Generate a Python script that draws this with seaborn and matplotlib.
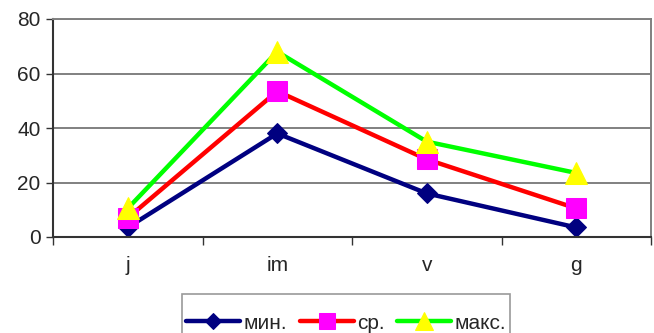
import numpy as np
import pandas as pd
from matplotlib import pyplot as plt
from matplotlib.ticker import FixedLocator
import seaborn as sns

# values
categories = ["j", "im", "v", "g"]
min_vals = [3.5, 38, 16, 3.5]
avg_vals = [7, 53.5, 28.5, 10.5]
max_vals = [10.5, 68, 35, 23.5]
series_names = ["мин.", "ср.", "макс."]

df = pd.DataFrame({"cat": categories, "мин.": min_vals, "ср.": avg_vals, "макс.": max_vals})

sns.set_style("white")
plt.rcParams["font.family"] = ["Liberation Sans", "DejaVu Sans"]

fig = plt.figure(figsize=(6.54, 3.33), dpi=100)
ax = fig.add_axes([53 / 654, 1 - 237 / 333, (651 - 53) / 654, (237 - 19) / 333])

styles = {
    "мин.": dict(color="#000080", marker="D", markersize=10, markerfacecolor="#000080", markeredgecolor="#000080"),
    "ср.": dict(color="#FF0000", marker="s", markersize=14, markerfacecolor="#FF00FF", markeredgecolor="#FF00FF"),
    "макс.": dict(color="#00FF00", marker="^", markersize=16, markerfacecolor="#FFFF00", markeredgecolor="#FFFF00"),
}
for name in series_names:
    sns.lineplot(data=df, x="cat", y=name, ax=ax, label=name, linewidth=3.2, sort=False, **styles[name])

ax.set_xlim(-0.5, len(categories) - 0.5)
ax.set_ylim(0, 80)
ax.set_yticks([0, 20, 40, 60, 80])
ax.set_xlabel("")
ax.set_ylabel("")
ax.yaxis.grid(True, color="#808080", linewidth=1.4)
ax.set_axisbelow(True)

ax.xaxis.set_minor_locator(FixedLocator(np.arange(-0.5, len(categories), 1.0)))
ax.tick_params(axis="x", which="major", length=0, pad=14, labelsize=15)
ax.tick_params(axis="x", which="minor", length=6, width=1, color="#333333", direction="out", bottom=True)
ax.tick_params(axis="y", length=5, width=1, color="#333333", direction="out", left=True, labelsize=15, pad=4)

for side in ["left", "bottom"]:
    ax.spines[side].set_color("#333333")
    ax.spines[side].set_linewidth(1.5)
for side in ["top", "right"]:
    ax.spines[side].set_color("#808080")
    ax.spines[side].set_linewidth(1.4)

leg = ax.legend(loc="upper center", bbox_to_anchor=(346 / 654, 1 - 294 / 333), bbox_transform=fig.transFigure,
                ncol=3, fontsize=15, frameon=True, fancybox=False, edgecolor="#808080", borderpad=0.2,
                handlelength=2.6, handletextpad=0.15, columnspacing=0.6, borderaxespad=0,
                title=" ", title_fontsize=4)
leg.get_frame().set_linewidth(1.2)
# legend markers are a bit smaller than the ones on the lines
for h in leg.legend_handles:
    h.set_markersize(h.get_markersize() * 0.8)

plt.savefig("out.png", dpi=100)
